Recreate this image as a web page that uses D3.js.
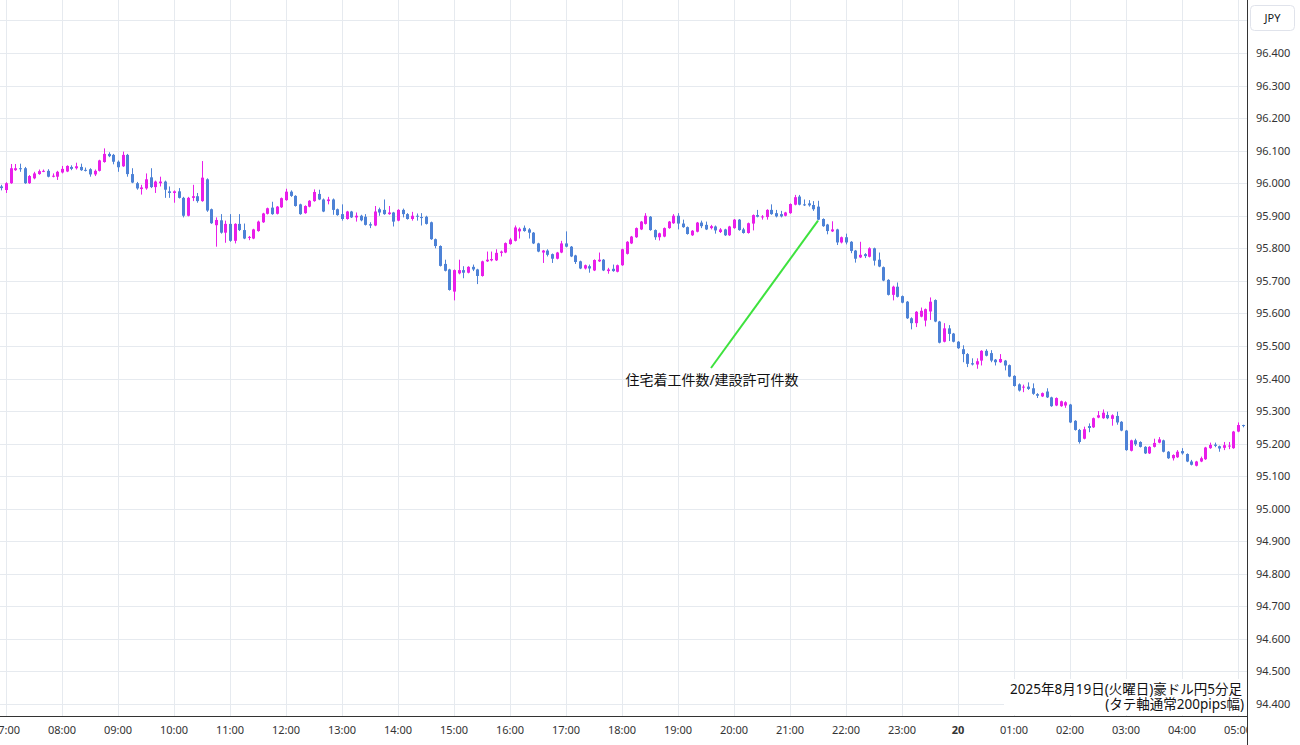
<!DOCTYPE html>
<html><head><meta charset="utf-8">
<script src="https://cdn.jsdelivr.net/npm/d3@7"></script>
<style>
body{margin:0;background:#fff;overflow:hidden}
svg{display:block}
text{font-family:"Noto Sans","Noto Sans CJK JP",sans-serif}
</style>
</head><body><svg id="c" width="1300" height="745"></svg>
<script>
// AUD/JPY 5-minute candles, 2025-08-19 06:55 -> 2025-08-20 05:05
const opens=[95.990,95.979,96.000,96.040,96.046,96.046,96.000,96.015,96.028,96.036,96.038,96.020,96.020,96.033,96.036,96.050,96.046,96.050,96.041,96.043,
96.027,96.038,96.065,96.090,96.087,96.066,96.052,96.087,96.028,96.000,95.982,95.984,96.018,95.988,96.000,96.005,95.975,95.970,95.975,95.955,
95.900,95.955,95.960,95.945,96.012,95.920,95.871,95.886,95.848,95.875,95.823,95.875,95.856,95.832,95.830,95.853,95.880,95.906,95.925,95.906,
95.926,95.948,95.974,95.961,95.935,95.908,95.928,95.945,95.967,95.950,95.945,95.950,95.920,95.905,95.890,95.913,95.895,95.900,95.897,95.874,
95.870,95.920,95.918,95.905,95.910,95.885,95.918,95.905,95.890,95.900,95.896,95.897,95.880,95.828,95.807,95.752,95.735,95.667,95.723,95.733,
95.725,95.743,95.735,95.715,95.760,95.763,95.763,95.786,95.787,95.813,95.823,95.852,95.863,95.858,95.848,95.815,95.787,95.793,95.782,95.768,
95.787,95.815,95.805,95.778,95.760,95.738,95.745,95.732,95.760,95.765,95.730,95.737,95.728,95.748,95.783,95.815,95.834,95.858,95.875,95.897,
95.856,95.834,95.836,95.862,95.877,95.900,95.876,95.865,95.840,95.851,95.879,95.872,95.862,95.867,95.850,95.858,95.840,95.862,95.888,95.858,
95.847,95.876,95.902,95.895,95.896,95.918,95.908,95.905,95.900,95.908,95.934,95.959,95.935,95.938,95.933,95.928,95.890,95.873,95.852,95.858,
95.818,95.834,95.820,95.793,95.772,95.782,95.774,95.800,95.765,95.742,95.703,95.657,95.682,95.653,95.636,95.585,95.570,95.590,95.578,95.606,
95.641,95.575,95.513,95.554,95.538,95.513,95.490,95.475,95.447,95.443,95.455,95.485,95.478,95.458,95.450,95.455,95.441,95.408,95.382,95.372,
95.375,95.370,95.352,95.345,95.360,95.342,95.317,95.315,95.317,95.320,95.270,95.242,95.215,95.254,95.250,95.280,95.278,95.288,95.276,95.285,
95.267,95.240,95.178,95.210,95.205,95.190,95.170,95.190,95.203,95.210,95.175,95.155,95.158,95.177,95.168,95.145,95.132,95.145,95.152,95.186,
95.197,95.192,95.187,95.192,95.186,95.237,95.257];
const highs=[95.995,96.003,96.059,96.059,96.060,96.050,96.025,96.035,96.042,96.042,96.043,96.030,96.038,96.053,96.055,96.055,96.063,96.060,96.048,96.046,
96.042,96.072,96.107,96.095,96.090,96.070,96.097,96.090,96.046,96.004,95.995,96.030,96.046,96.008,96.020,96.008,95.990,95.978,95.985,95.958,
95.958,95.995,95.970,96.068,96.015,95.922,95.895,95.905,95.885,95.905,95.877,95.905,95.876,95.838,95.860,95.885,95.909,95.925,95.943,95.930,
95.956,95.983,95.978,95.963,95.937,95.932,95.948,95.981,95.980,95.953,95.958,95.953,95.922,95.935,95.915,95.915,95.910,95.903,95.905,95.880,
95.930,95.925,95.950,95.930,95.912,95.920,95.922,95.908,95.912,95.907,95.908,95.900,95.882,95.830,95.809,95.765,95.737,95.735,95.765,95.745,
95.745,95.750,95.737,95.762,95.790,95.790,95.797,95.793,95.818,95.832,95.870,95.864,95.870,95.862,95.850,95.817,95.795,95.797,95.784,95.789,
95.823,95.852,95.807,95.780,95.762,95.750,95.750,95.766,95.787,95.767,95.740,95.750,95.750,95.799,95.822,95.838,95.864,95.884,95.908,95.899,
95.858,95.848,95.864,95.884,95.905,95.908,95.888,95.867,95.856,95.881,95.885,95.882,95.872,95.870,95.862,95.860,95.869,95.890,95.890,95.863,
95.879,95.904,95.918,95.902,95.920,95.935,95.918,95.915,95.912,95.938,95.964,95.964,95.950,95.948,95.945,95.946,95.892,95.875,95.883,95.860,
95.836,95.845,95.822,95.795,95.820,95.785,95.803,95.802,95.787,95.744,95.705,95.685,95.695,95.655,95.638,95.588,95.607,95.618,95.615,95.649,
95.643,95.577,95.570,95.564,95.540,95.515,95.502,95.478,95.462,95.462,95.487,95.490,95.487,95.460,95.475,95.457,95.443,95.410,95.385,95.381,
95.388,95.385,95.355,95.357,95.370,95.344,95.342,95.332,95.330,95.322,95.272,95.245,95.252,95.262,95.280,95.300,95.305,95.298,95.290,95.298,
95.269,95.242,95.212,95.215,95.207,95.192,95.192,95.215,95.220,95.212,95.177,95.167,95.180,95.186,95.170,95.150,95.147,95.160,95.190,95.203,
95.203,95.194,95.205,95.205,95.239,95.265,95.258];
const lows=[95.978,95.970,95.998,96.038,96.035,95.998,95.998,96.012,96.026,96.034,96.018,96.018,96.010,96.030,96.034,96.040,96.042,96.038,96.036,96.020,
96.022,96.036,96.063,96.080,96.058,96.035,96.050,96.020,96.000,95.980,95.965,95.980,95.985,95.970,95.990,95.955,95.955,95.940,95.953,95.895,
95.898,95.945,95.940,95.943,95.912,95.875,95.805,95.845,95.817,95.820,95.815,95.853,95.828,95.825,95.828,95.851,95.878,95.904,95.903,95.904,
95.924,95.946,95.958,95.928,95.903,95.906,95.926,95.943,95.948,95.911,95.935,95.903,95.900,95.885,95.888,95.893,95.882,95.883,95.870,95.862,
95.868,95.900,95.903,95.903,95.867,95.883,95.895,95.888,95.885,95.885,95.870,95.873,95.826,95.800,95.744,95.729,95.670,95.640,95.720,95.708,
95.723,95.730,95.690,95.713,95.758,95.760,95.761,95.775,95.785,95.811,95.821,95.830,95.851,95.830,95.813,95.788,95.755,95.775,95.755,95.766,
95.785,95.803,95.773,95.752,95.736,95.735,95.725,95.730,95.758,95.730,95.722,95.728,95.726,95.746,95.781,95.813,95.832,95.856,95.873,95.854,
95.826,95.824,95.834,95.860,95.875,95.858,95.863,95.842,95.838,95.849,95.862,95.856,95.858,95.845,95.847,95.838,95.838,95.860,95.854,95.845,
95.845,95.855,95.895,95.888,95.888,95.903,95.895,95.895,95.898,95.906,95.932,95.932,95.930,95.928,95.915,95.886,95.866,95.843,95.850,95.810,
95.815,95.812,95.785,95.756,95.770,95.770,95.772,95.747,95.742,95.699,95.655,95.640,95.649,95.631,95.583,95.551,95.558,95.588,95.560,95.580,
95.573,95.508,95.511,95.515,95.511,95.491,95.450,95.435,95.440,95.430,95.440,95.468,95.450,95.440,95.448,95.425,95.404,95.375,95.360,95.358,
95.365,95.350,95.340,95.343,95.340,95.313,95.315,95.313,95.310,95.263,95.240,95.200,95.213,95.235,95.248,95.278,95.276,95.275,95.255,95.258,
95.238,95.178,95.176,95.193,95.188,95.168,95.168,95.188,95.201,95.173,95.153,95.148,95.156,95.166,95.143,95.133,95.130,95.143,95.150,95.184,
95.189,95.175,95.180,95.183,95.184,95.235,95.250];
const closes=[95.985,96.000,96.046,96.046,96.043,96.000,96.022,96.030,96.037,96.038,96.020,96.023,96.035,96.044,96.053,96.044,96.052,96.040,96.040,96.027,
96.038,96.070,96.090,96.083,96.066,96.049,96.087,96.028,96.002,95.984,95.987,96.012,95.988,96.005,96.005,95.980,95.970,95.975,95.955,95.900,
95.955,95.960,95.945,96.017,95.916,95.877,95.887,95.848,95.875,95.823,95.875,95.856,95.830,95.835,95.858,95.882,95.907,95.923,95.905,95.928,
95.954,95.974,95.961,95.930,95.905,95.930,95.946,95.973,95.950,95.913,95.950,95.918,95.902,95.890,95.913,95.895,95.900,95.886,95.872,95.870,
95.913,95.910,95.905,95.910,95.882,95.918,95.905,95.890,95.900,95.898,95.895,95.875,95.828,95.807,95.746,95.731,95.672,95.733,95.733,95.725,
95.743,95.735,95.715,95.760,95.765,95.767,95.786,95.790,95.816,95.827,95.864,95.860,95.853,95.848,95.815,95.790,95.793,95.780,95.768,95.787,
95.815,95.805,95.775,95.758,95.738,95.748,95.738,95.764,95.765,95.732,95.735,95.730,95.748,95.797,95.820,95.836,95.862,95.882,95.900,95.856,
95.834,95.846,95.862,95.882,95.900,95.876,95.865,95.844,95.854,95.879,95.868,95.858,95.868,95.855,95.858,95.840,95.867,95.888,95.856,95.847,
95.877,95.902,95.897,95.898,95.918,95.905,95.898,95.898,95.910,95.936,95.957,95.934,95.934,95.932,95.920,95.888,95.868,95.853,95.858,95.818,
95.834,95.818,95.792,95.768,95.780,95.776,95.800,95.762,95.744,95.701,95.657,95.682,95.651,95.633,95.585,95.570,95.605,95.608,95.613,95.636,
95.575,95.510,95.554,95.537,95.513,95.493,95.475,95.445,95.443,95.453,95.485,95.470,95.455,95.450,95.460,95.440,95.406,95.377,95.363,95.375,
95.368,95.353,95.347,95.355,95.342,95.315,95.340,95.330,95.327,95.265,95.242,95.205,95.244,95.248,95.278,95.287,95.295,95.278,95.287,95.265,
95.240,95.180,95.210,95.198,95.190,95.170,95.190,95.202,95.213,95.175,95.155,95.165,95.175,95.170,95.145,95.135,95.145,95.155,95.188,95.196,
95.193,95.185,95.195,95.194,95.237,95.257,95.255];
const timeLabels=["07:00","08:00","09:00","10:00","11:00","12:00","13:00","14:00","15:00","16:00","17:00","18:00","19:00","20:00","21:00","22:00","23:00","20","01:00","02:00","03:00","04:00","05:00"];
const priceTicks=[94.4,94.5,94.6,94.7,94.8,94.9,95.0,95.1,95.2,95.3,95.4,95.5,95.6,95.7,95.8,95.9,96.0,96.1,96.2,96.3,96.4];
const annotationText="住宅着工件数/建設許可件数";
const titleLines=["2025年8月19日(火曜日)豪ドル円5分足","(タテ軸通常200pips幅)"];

const upColor="#e91ee9", downColor="#4d82d6", gridColor="#e6eaef";
const svg=d3.select("#c");
const W=1300,H=745, plotRight=1247, plotBottom=716;

const t0=new Date(2025,7,19,6,55);
const times=opens.map((_,i)=>d3.timeMinute.offset(t0,5*i));
const x=d3.scaleTime().domain([new Date(2025,7,19,7,0),new Date(2025,7,20,5,0)]).range([6,1238]);
const y=d3.scaleLinear().domain([94.4,96.4]).range([704,53]);

svg.append("rect").attr("width",W).attr("height",H).attr("fill","#fff");
const defs=svg.append("defs");
defs.append("clipPath").attr("id","pc").append("rect").attr("x",0).attr("y",0).attr("width",plotRight).attr("height",plotBottom);
defs.append("clipPath").attr("id","tc").append("rect").attr("x",0).attr("y",plotBottom).attr("width",plotRight).attr("height",H-plotBottom);
const pg=svg.append("g").attr("clip-path","url(#pc)");

// grid
const gridPrices=priceTicks.concat([96.5,96.6]);
pg.selectAll("line.hg").data(gridPrices).join("line")
  .attr("x1",0).attr("x2",plotRight)
  .attr("y1",d=>Math.round(y(d))+0.5).attr("y2",d=>Math.round(y(d))+0.5)
  .attr("stroke",gridColor).attr("stroke-width",1);
const hourTimes=timeLabels.map((_,k)=>d3.timeHour.offset(new Date(2025,7,19,7,0),k));
pg.selectAll("line.vg").data(hourTimes).join("line")
  .attr("x1",d=>Math.round(x(d))+0.5).attr("x2",d=>Math.round(x(d))+0.5)
  .attr("y1",0).attr("y2",plotBottom)
  .attr("stroke",gridColor).attr("stroke-width",1);

// candles
const cg=pg.append("g");
opens.forEach((o,i)=>{
  const c=closes[i], up=c>=o, col=up?upColor:downColor;
  const cx=Math.round(x(times[i]));
  cg.append("line").attr("x1",cx+0.5).attr("x2",cx+0.5)
    .attr("y1",y(highs[i])).attr("y2",y(lows[i])).attr("stroke",col).attr("stroke-width",1);
  const top=y(Math.max(o,c)), bot=y(Math.min(o,c));
  cg.append("rect").attr("x",cx-1).attr("width",3)
    .attr("y",top).attr("height",Math.max(1,bot-top)).attr("fill",col);
});

// annotation
const ai=175; // candle 21:30
pg.append("line").attr("x1",711).attr("y1",368)
  .attr("x2",x(times[ai])).attr("y2",y(closes[ai])+1)
  .attr("stroke","#3ee23e").attr("stroke-width",2);
svg.append("text").attr("x",712).attr("y",385).attr("text-anchor","middle")
  .attr("font-size",14).attr("fill","#111").text(annotationText);

// title box
svg.append("rect").attr("x",1004).attr("y",679).attr("width",plotRight-1004).attr("height",36).attr("fill","#fff");
svg.append("text").attr("x",1242).attr("y",694).attr("text-anchor","end").attr("font-size",13.5).attr("fill","#111").text(titleLines[0]);
svg.append("text").attr("x",1244).attr("y",709).attr("text-anchor","end").attr("font-size",13.5).attr("fill","#111").text(titleLines[1]);

// axes
svg.append("line").attr("x1",plotRight+0.5).attr("x2",plotRight+0.5).attr("y1",0).attr("y2",H).attr("stroke","#333");
svg.append("line").attr("x1",0).attr("x2",plotRight).attr("y1",plotBottom+0.5).attr("y2",plotBottom+0.5).attr("stroke","#333");
svg.selectAll("text.pt").data(priceTicks).join("text")
  .attr("x",1256).attr("y",d=>y(d)+4).attr("font-size",11).attr("fill","#333")
  .text(d=>d3.format(".3f")(d));
svg.append("g").attr("clip-path","url(#tc)").selectAll("text").data(hourTimes).join("text")
  .attr("x",d=>x(d)).attr("y",734).attr("text-anchor","middle").attr("font-size",11)
  .attr("fill","#333").attr("font-weight",(d,k)=>timeLabels[k]==="20"?"bold":"normal")
  .text((d,k)=>timeLabels[k]);
// JPY box
svg.append("rect").attr("x",1250.5).attr("y",5.5).attr("width",44).attr("height",25).attr("rx",4)
  .attr("fill","#fff").attr("stroke","#e0e3eb");
svg.append("text").attr("x",1272.5).attr("y",22).attr("text-anchor","middle").attr("font-size",11).attr("fill","#131722").text("JPY");
</script>
</body></html>
